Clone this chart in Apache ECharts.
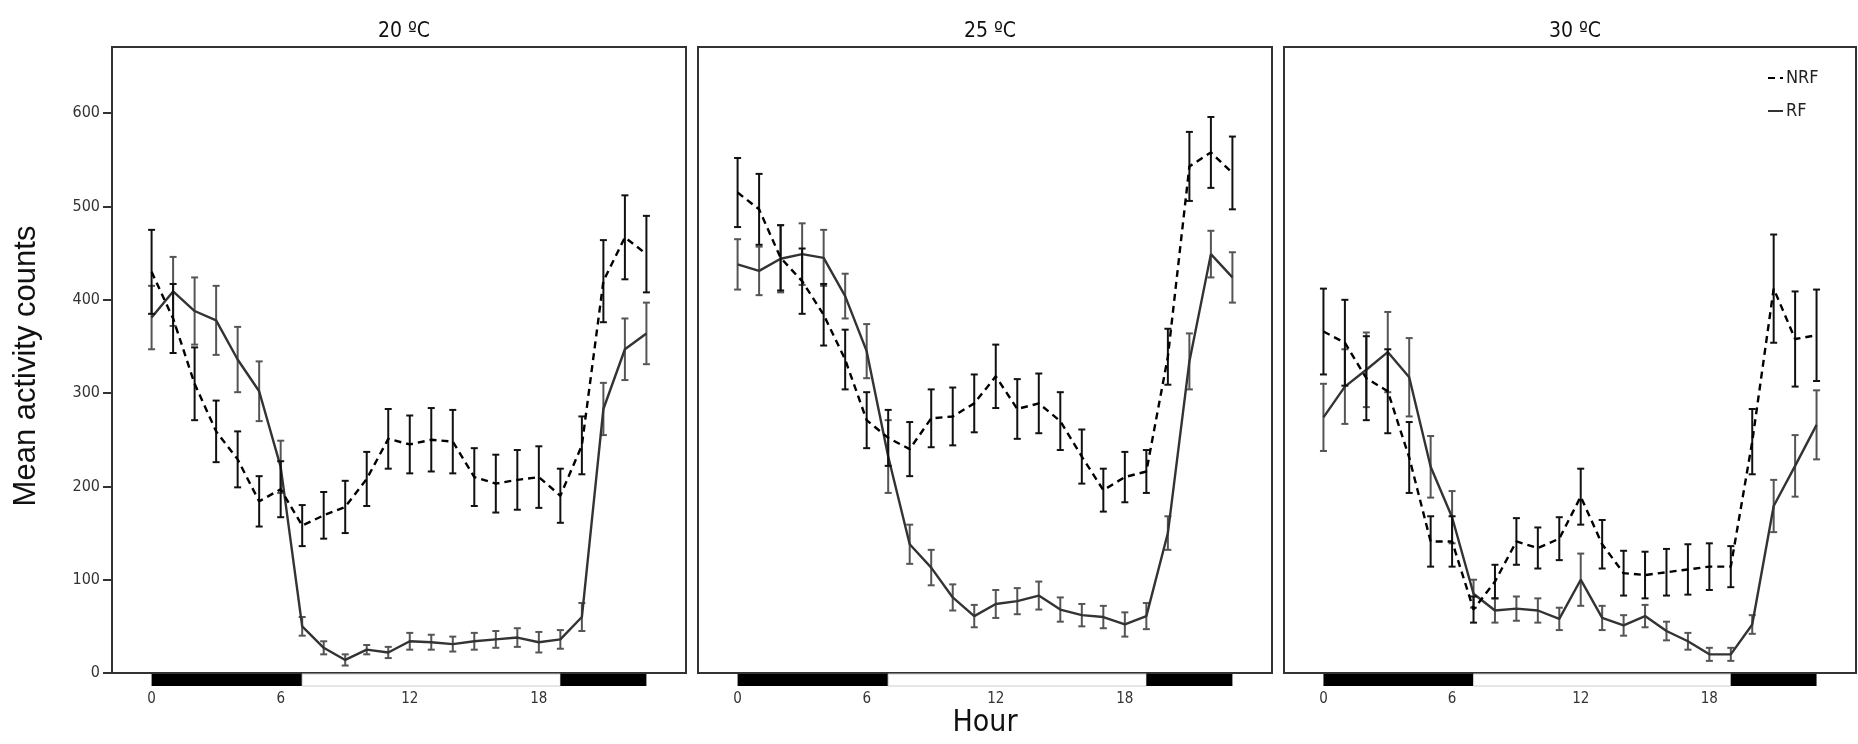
<!DOCTYPE html>
<html>
<head>
<meta charset="utf-8">
<script src="https://cdn.jsdelivr.net/npm/echarts@6/dist/echarts.min.js"></script>
<style>
	html, body { margin: 0; padding: 0; background: #fff; }
	#actChart { width: 1858px; height: 744px; }
</style>
</head>
<body>
<div id="actChart"></div>
<script type="text/javascript">
	// hours of the day
	var hours = [0, 1, 2, 3, 4, 5, 6, 7, 8, 9, 10, 11, 12, 13, 14, 15, 16, 17, 18, 19, 20, 21, 22, 23];
	var panelTitles = ['20 ºC', '25 ºC', '30 ºC'];
	var xTicks = [0, 6, 12, 18];
	var yTicks = [0, 100, 200, 300, 400, 500, 600];

	// dark / light phases under the x axis
	var phaseStart = [0, 7, 19];
	var phaseEnd = [7, 19, 23];
	var phaseDark = [1, 0, 1];

	// 20 ºC
	var nrf20 = [430, 380, 310, 259, 229, 184, 197, 158, 169, 178, 208, 251, 245, 250, 248, 210, 203, 207, 210, 190, 244, 420, 467, 449];
	var nrf20Err = [45, 37, 39, 33, 30, 27, 30, 22, 25, 28, 29, 32, 31, 34, 34, 31, 31, 32, 33, 29, 31, 44, 45, 41];
	var rf20 = [381, 409, 388, 378, 336, 302, 221, 50, 27, 14, 25, 22, 34, 33, 31, 34, 36, 38, 33, 36, 60, 283, 347, 364];
	var rf20Err = [34, 37, 36, 37, 35, 32, 28, 10, 7, 6, 5, 6, 9, 8, 8, 9, 9, 10, 11, 10, 15, 28, 33, 33];

	// 25 ºC
	var nrf25 = [515, 497, 445, 420, 384, 336, 271, 252, 240, 273, 275, 289, 318, 283, 289, 270, 232, 196, 210, 216, 339, 543, 558, 536];
	var nrf25Err = [37, 38, 35, 35, 33, 32, 30, 30, 29, 31, 31, 31, 34, 32, 32, 31, 29, 23, 27, 23, 30, 37, 38, 39];
	var rf25 = [438, 431, 444, 449, 445, 404, 345, 232, 138, 113, 81, 61, 74, 77, 83, 68, 62, 60, 52, 61, 150, 334, 449, 424];
	var rf25Err = [27, 26, 36, 33, 30, 24, 29, 39, 21, 19, 14, 12, 15, 14, 15, 13, 12, 12, 13, 14, 18, 30, 25, 27];

	// 30 ºC
	var nrf30 = [366, 354, 316, 302, 231, 141, 141, 68, 98, 141, 134, 144, 189, 138, 107, 105, 108, 111, 114, 114, 248, 412, 358, 362];
	var nrf30Err = [46, 46, 45, 45, 38, 27, 27, 14, 18, 25, 22, 23, 30, 26, 24, 25, 25, 27, 25, 22, 35, 58, 51, 49];
	var rf30 = [274, 307, 325, 344, 317, 221, 167, 85, 67, 69, 67, 58, 100, 59, 51, 61, 45, 34, 20, 20, 52, 179, 222, 266];
	var rf30Err = [36, 40, 40, 43, 42, 33, 28, 15, 13, 13, 13, 12, 28, 13, 11, 12, 10, 9, 7, 7, 10, 28, 33, 37];

	var nrfAll = [nrf20, nrf25, nrf30];
	var nrfErrAll = [nrf20Err, nrf25Err, nrf30Err];
	var rfAll = [rf20, rf25, rf30];
	var rfErrAll = [rf20Err, rf25Err, rf30Err];

	var narrow = '"Liberation Sans Narrow", "DejaVu Sans Condensed", sans-serif';
	var panelLeft = [112, 698, 1284];
	var panelWidth = [574, 574, 572];

	function pairs(v) {
		return hours.map(function(h, i) { return [h, v[i]]; });
	}

	function errData(v, e) {
		return hours.map(function(h, i) { return [h, v[i] - e[i], v[i] + e[i]]; });
	}

	// error bars with caps
	function errRender(color) {
		return function(params, api) {
			var lo = api.coord([api.value(0), api.value(1)]);
			var hi = api.coord([api.value(0), api.value(2)]);
			var w = 3.5;
			var st = { stroke: color, lineWidth: 2 };
			return {
				type: 'group',
				children: [
					{ type: 'line', shape: { x1: lo[0], y1: lo[1], x2: hi[0], y2: hi[1] }, style: st },
					{ type: 'line', shape: { x1: lo[0] - w, y1: lo[1], x2: lo[0] + w, y2: lo[1] }, style: st },
					{ type: 'line', shape: { x1: hi[0] - w, y1: hi[1], x2: hi[0] + w, y2: hi[1] }, style: st }
				]
			};
		};
	}

	// black / white bar under the axis
	function phaseRender(params, api) {
		var p0 = api.coord([api.value(0), 0]);
		var p1 = api.coord([api.value(1), 0]);
		var dark = api.value(3) == 1;
		return {
			type: 'rect',
			shape: { x: p0[0], y: p0[1] + 1, width: p1[0] - p0[0], height: 12 },
			style: dark ? { fill: '#000' } : { fill: '#fff', stroke: '#ccc', lineWidth: 1 }
		};
	}

	var grids = [], xAxes = [], yAxes = [], titles = [], series = [];
	for (var p = 0; p < 3; p++) {
		grids.push({
			left: panelLeft[p], width: panelWidth[p], top: 47, height: 626,
			show: true, borderColor: '#333', borderWidth: 2, backgroundColor: 'transparent'
		});
		titles.push({
			text: panelTitles[p],
			left: panelLeft[p] + panelWidth[p] / 2,
			top: 16,
			textAlign: 'center',
			textStyle: { fontFamily: narrow, fontSize: 21, fontWeight: 'normal', color: '#111' }
		});
		xAxes.push({
			type: 'value', gridIndex: p, min: -1.84, max: 24.84,
			splitLine: { show: false },
			axisLine: { show: true, onZero: false, lineStyle: { color: '#333', width: 2 } },
			axisTick: { show: false },
			axisLabel: {
				customValues: xTicks, margin: 19,
				fontFamily: narrow, fontSize: 15, color: '#333'
			}
		});
		yAxes.push({
			type: 'value', gridIndex: p, min: 0, max: 671,
			splitLine: { show: false },
			axisLine: { show: true, onZero: false, lineStyle: { color: '#333', width: 2 } },
			axisTick: { show: p == 0, customValues: yTicks, length: 9, lineStyle: { color: '#333', width: 2 } },
			axisLabel: {
				show: p == 0, customValues: yTicks, margin: 12,
				fontFamily: narrow, fontSize: 16, color: '#333'
			}
		});

		series.push({
			type: 'custom', name: 'phase', xAxisIndex: p, yAxisIndex: p,
			renderItem: phaseRender, clip: false, silent: true, z: 5,
			encode: { x: [0, 1], y: 2 },
			data: phaseStart.map(function(s, i) { return [s, phaseEnd[i], 0, phaseDark[i]]; })
		});
		series.push({
			type: 'line', name: 'RF', xAxisIndex: p, yAxisIndex: p,
			data: pairs(rfAll[p]), symbol: 'none', z: 3,
			itemStyle: { color: '#333' },
			lineStyle: { color: '#333', width: 2.4 }
		});
		series.push({
			type: 'custom', name: 'RF', xAxisIndex: p, yAxisIndex: p,
			renderItem: errRender('#555'), z: 3,
			encode: { x: 0, y: [1, 2] },
			data: errData(rfAll[p], rfErrAll[p])
		});
		series.push({
			type: 'line', name: 'NRF', xAxisIndex: p, yAxisIndex: p,
			data: pairs(nrfAll[p]), symbol: 'none', z: 4,
			itemStyle: { color: '#000' },
			lineStyle: { color: '#000', width: 2.4, type: [7, 5] }
		});
		series.push({
			type: 'custom', name: 'NRF', xAxisIndex: p, yAxisIndex: p,
			renderItem: errRender('#111'), z: 4,
			encode: { x: 0, y: [1, 2] },
			data: errData(nrfAll[p], nrfErrAll[p])
		});
	}

	var actChart = echarts.init(document.getElementById('actChart'));
	var actOption = {
		animation: false,
		title: titles,
		grid: grids,
		xAxis: xAxes,
		yAxis: yAxes,
		legend: {
			data: [
				{ name: 'NRF', itemStyle: { opacity: 0 } },
				{ name: 'RF', itemStyle: { opacity: 0 } }
			],
			orient: 'vertical',
			left: 1762, top: 64,
			itemWidth: 15, itemHeight: 14, itemGap: 15,
			textStyle: { fontFamily: narrow, fontSize: 18, color: '#222', padding: [0, 0, 0, -2] }
		},
		graphic: [{
			type: 'text', x: 26, y: 366, rotation: Math.PI / 2,
			style: {
				text: 'Mean activity counts', textAlign: 'center', textVerticalAlign: 'middle',
				fontFamily: '"Liberation Sans", Arial, sans-serif', fontSize: 31, fill: '#111'
			}
		}, {
			type: 'text', x: 985, y: 723,
			style: {
				text: 'Hour', textAlign: 'center', textVerticalAlign: 'middle',
				fontFamily: narrow, fontSize: 30, fill: '#111'
			}
		}],
		series: series
	};

	actChart.setOption(actOption);
	window.onresize = actChart.resize;
</script>
</body>
</html>
